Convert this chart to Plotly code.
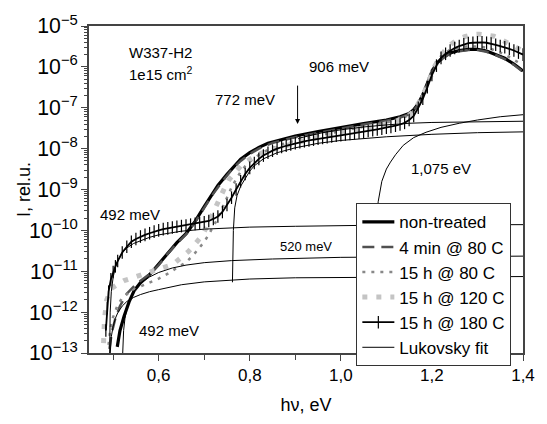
import numpy as np
import plotly.graph_objects as go

# ---- data (x in eV, y given as log10 of intensity) ----
nt_x = [0.509, 0.515, 0.524, 0.535, 0.546, 0.56, 0.582, 0.60, 0.62, 0.64, 0.66, 0.68, 0.70, 0.714, 0.73,
        0.75, 0.765, 0.78, 0.80, 0.82, 0.84, 0.87, 0.90, 0.95, 1.00, 1.05, 1.10, 1.13, 1.15, 1.16, 1.17,
        1.18, 1.19, 1.20, 1.21, 1.225, 1.24, 1.26, 1.28, 1.30, 1.32, 1.34, 1.36, 1.38, 1.40]
nt_lg = [-12.85, -12.45, -12.1, -11.75, -11.48, -11.28, -11.06, -10.83, -10.55, -10.3, -10.08, -9.78, -9.42,
         -9.17, -8.9, -8.63, -8.43, -8.26, -8.1, -7.97, -7.87, -7.77, -7.69, -7.58, -7.48, -7.39, -7.3, -7.22,
         -7.14, -7.05, -6.9, -6.68, -6.4, -6.12, -5.92, -5.76, -5.66, -5.6, -5.57, -5.57, -5.61, -5.69,
         -5.79, -5.93, -6.1]

m4_x = [0.492, 0.497, 0.505, 0.515, 0.53, 0.55, 0.58, 0.60, 0.62, 0.64, 0.66, 0.68, 0.70, 0.72, 0.74, 0.76,
        0.78, 0.80, 0.82, 0.85, 0.90, 0.95, 1.0, 1.05, 1.1, 1.13, 1.15, 1.16, 1.17, 1.18, 1.19, 1.20, 1.21,
        1.225, 1.24, 1.26, 1.28, 1.30, 1.32, 1.34, 1.36, 1.38, 1.40]
m4_lg = [-12.9, -12.5, -12.15, -11.85, -11.55, -11.32, -11.07, -10.85, -10.57, -10.32, -10.1, -9.8, -9.45,
         -9.1, -8.8, -8.52, -8.3, -8.13, -8.0, -7.86, -7.72, -7.61, -7.51, -7.41, -7.32, -7.24, -7.16, -7.07,
         -6.92, -6.7, -6.42, -6.14, -5.94, -5.78, -5.68, -5.62, -5.59, -5.59, -5.63, -5.71, -5.81, -5.95, -6.12]

h80_x = [0.490, 0.494, 0.499, 0.509, 0.52, 0.535, 0.55, 0.567, 0.585, 0.60, 0.62, 0.64, 0.66, 0.675, 0.69,
         0.70, 0.71, 0.72, 0.73, 0.74, 0.75, 0.76, 0.77, 0.78, 0.79, 0.80, 0.82, 0.84, 0.87, 0.90, 0.95, 1.0,
         1.05, 1.1, 1.13, 1.15, 1.16, 1.17, 1.18, 1.19, 1.20, 1.21, 1.225, 1.24, 1.26, 1.28, 1.30, 1.32,
         1.34, 1.36, 1.38, 1.40]
h80_lg = [-12.8, -12.4, -12.15, -11.85, -11.65, -11.52, -11.42, -11.34, -11.25, -11.18, -11.06, -10.93,
          -10.78, -10.62, -10.42, -10.28, -10.1, -9.9, -9.7, -9.45, -9.2, -8.95, -8.75, -8.57, -8.43, -8.32,
          -8.15, -8.03, -7.9, -7.8, -7.68, -7.57, -7.46, -7.36, -7.27, -7.18, -7.08, -6.9, -6.66, -6.36,
          -6.08, -5.86, -5.68, -5.58, -5.52, -5.5, -5.5, -5.53, -5.6, -5.7, -5.82, -5.96]

h120_x = [0.479, 0.481, 0.486, 0.496, 0.51, 0.524, 0.54, 0.557, 0.575, 0.589, 0.605, 0.621, 0.637, 0.653,
          0.665, 0.675, 0.686, 0.696, 0.705, 0.714, 0.724, 0.733, 0.744, 0.755, 0.768, 0.782, 0.80, 0.815,
          0.835, 0.858, 0.88, 0.901, 0.93, 0.965, 1.0, 1.03, 1.06, 1.094, 1.12, 1.137, 1.15, 1.159, 1.168,
          1.176, 1.184, 1.191, 1.198, 1.206, 1.216, 1.228, 1.242, 1.256, 1.272, 1.288, 1.304, 1.320, 1.336,
          1.352, 1.368, 1.385, 1.400]
h120_lg = [-12.76, -12.17, -11.7, -11.42, -11.32, -11.23, -11.17, -11.11, -11.05, -10.99, -10.93, -10.87,
           -10.78, -10.64, -10.52, -10.4, -10.27, -10.12, -9.92, -9.69, -9.45, -9.22, -8.98, -8.75, -8.56,
           -8.4, -8.26, -8.16, -8.07, -8.0, -7.92, -7.85, -7.77, -7.69, -7.62, -7.55, -7.49, -7.41, -7.34,
           -7.26, -7.18, -7.1, -6.95, -6.79, -6.6, -6.39, -6.19, -5.99, -5.8, -5.61, -5.45, -5.33, -5.26,
           -5.21, -5.2, -5.21, -5.25, -5.33, -5.42, -5.52, -5.61]

h180_x = [0.484, 0.487, 0.490, 0.495, 0.50, 0.505, 0.51, 0.52, 0.53, 0.54, 0.55, 0.56, 0.57, 0.58, 0.59,
          0.60, 0.61, 0.62, 0.63, 0.64, 0.65, 0.66, 0.67, 0.68, 0.69, 0.70, 0.71, 0.72, 0.73,
          0.74, 0.75, 0.76, 0.77, 0.78, 0.79, 0.80, 0.81, 0.82, 0.83, 0.84, 0.85, 0.86, 0.87, 0.88, 0.89,
          0.90, 0.91, 0.92, 0.93, 0.94, 0.95, 0.96, 0.97, 0.98, 0.99, 1.00, 1.01, 1.02, 1.03, 1.04, 1.05,
          1.06, 1.07, 1.08, 1.09, 1.10, 1.11, 1.12, 1.13, 1.14, 1.15, 1.16, 1.17, 1.18, 1.19, 1.20, 1.21,
          1.22, 1.23, 1.24, 1.25, 1.26, 1.27, 1.28, 1.29, 1.30, 1.31, 1.32, 1.33, 1.34, 1.35, 1.36, 1.37,
          1.38, 1.39, 1.40]
h180_lg = [-12.45, -11.9, -11.5, -11.2, -11.02, -10.88, -10.75, -10.54, -10.4, -10.28, -10.21, -10.15,
           -10.11, -10.07, -10.03, -10.0, -9.97, -9.95, -9.93, -9.91, -9.895, -9.88, -9.86, -9.84, -9.82,
           -9.8, -9.77, -9.72, -9.66,
           -9.55, -9.38, -9.2, -9.0, -8.8, -8.62, -8.47, -8.35, -8.25, -8.17, -8.1, -8.05, -8.0, -7.96,
           -7.93, -7.9, -7.87, -7.845, -7.82, -7.8, -7.78, -7.76, -7.74, -7.72, -7.7, -7.685, -7.67, -7.655,
           -7.64, -7.625, -7.61, -7.59, -7.57, -7.55, -7.53, -7.51, -7.49, -7.47, -7.44, -7.41, -7.37, -7.3,
           -7.2, -7.0, -6.78, -6.5, -6.2, -5.97, -5.78, -5.68, -5.6, -5.54, -5.49, -5.45, -5.42, -5.41,
           -5.4, -5.4, -5.41, -5.43, -5.46, -5.49, -5.52, -5.56, -5.6, -5.65, -5.7]

# Lukovsky fits
fit492a_x = [0.492, 0.4935, 0.496, 0.50, 0.505, 0.51, 0.52, 0.53, 0.545, 0.56, 0.58, 0.60, 0.65, 0.70, 0.80,
             0.90, 1.0, 1.1, 1.2, 1.3, 1.4]
fit492a_lg = [-13.3, -12.0, -11.5, -11.15, -10.9, -10.75, -10.55, -10.43, -10.32, -10.25, -10.17, -10.11,
              -10.02, -9.97, -9.92, -9.9, -9.88, -9.87, -9.865, -9.86, -9.86]
fit492b_x = [0.492, 0.4935, 0.496, 0.50, 0.505, 0.51, 0.52, 0.53, 0.545, 0.56, 0.58, 0.60, 0.65, 0.70, 0.80,
             0.90, 1.0, 1.2, 1.4]
fit492b_lg = [-13.3, -12.9, -12.6, -12.35, -12.15, -12.02, -11.85, -11.74, -11.64, -11.57, -11.5, -11.45,
              -11.33, -11.26, -11.19, -11.16, -11.15, -11.14, -11.13]
fit520_x = [0.520, 0.521, 0.523, 0.526, 0.53, 0.535, 0.545, 0.56, 0.58, 0.60, 0.63, 0.66, 0.70, 0.76, 0.85,
            1.0, 1.2, 1.4]
fit520_lg = [-13.3, -12.8, -12.45, -12.15, -11.92, -11.73, -11.5, -11.3, -11.14, -11.03, -10.92, -10.85,
             -10.79, -10.74, -10.7, -10.66, -10.64, -10.63]
fit772_x = [0.762, 0.7625, 0.764, 0.767, 0.772, 0.78, 0.79, 0.80, 0.81, 0.83, 0.86, 0.90, 0.95, 1.0, 1.1,
            1.2, 1.3, 1.4]
fit772_lg = [-11.27, -10.5, -10.0, -9.45, -9.15, -8.92, -8.72, -8.55, -8.42, -8.25, -8.1, -7.98, -7.87, -7.8,
             -7.71, -7.65, -7.61, -7.59]
fit906_x = [0.906, 0.93, 0.96, 1.0, 1.05, 1.1, 1.15, 1.2, 1.3, 1.4]
fit906_lg = [-7.75, -7.68, -7.61, -7.54, -7.47, -7.42, -7.38, -7.36, -7.34, -7.33]
fit1075_x = [1.075, 1.0755, 1.077, 1.079, 1.082, 1.09, 1.10, 1.109, 1.12, 1.137, 1.16, 1.187, 1.22, 1.26,
             1.30, 1.35, 1.40]
fit1075_lg = [-13.5, -11.3, -10.3, -9.7, -9.3, -8.8, -8.5, -8.33, -8.15, -7.92, -7.73, -7.6, -7.48, -7.38,
              -7.3, -7.22, -7.17]

FONT = "Liberation Sans, Arial, sans-serif"


def val(lg):
    return [10.0 ** v for v in lg]


fig = go.Figure()

fig.add_trace(go.Scatter(x=nt_x, y=val(nt_lg), mode="lines", name="non-treated",
                         line=dict(color="black", width=3.2)))
fig.add_trace(go.Scatter(x=m4_x, y=val(m4_lg), mode="lines", name="4 min @ 80 C",
                         line=dict(color="#505050", width=2.5, dash="12px,7px")))
fig.add_trace(go.Scatter(x=h80_x, y=val(h80_lg), mode="lines", name="15 h @ 80 C",
                         line=dict(color="#888888", width=2.5, dash="3px,6px")))
fig.add_trace(go.Scatter(x=h120_x, y=val(h120_lg), mode="lines", name="15 h @ 120 C",
                         line=dict(color="#c4c4c4", width=5, dash="5px,9px")))
fig.add_trace(go.Scatter(x=h180_x, y=val(h180_lg), mode="lines+markers", name="15 h @ 180 C",
                         line=dict(color="black", width=1.8),
                         marker=dict(symbol="line-ns-open", size=9, color="black",
                                     line=dict(color="black", width=1.2))))

fits = [(fit492a_x, fit492a_lg), (fit492b_x, fit492b_lg), (fit520_x, fit520_lg),
        (fit772_x, fit772_lg), (fit906_x, fit906_lg), (fit1075_x, fit1075_lg)]
for i, (fx, fl) in enumerate(fits):
    fig.add_trace(go.Scatter(x=fx, y=val(fl), mode="lines", name="Lukovsky fit",
                             legendgroup="fit", showlegend=(i == 0),
                             line=dict(color="black", width=1)))

anns = [
    dict(x=0.531, y=-5.64, text="W337-H2", xanchor="left", size=15),
    dict(x=0.531, y=-6.16, text="1e15 cm<sup>2</sup>", xanchor="left", size=15),
    dict(x=0.79, y=-6.80, text="772 meV", xanchor="center", size=15),
    dict(x=0.995, y=-5.98, text="906 meV", xanchor="center", size=15),
    dict(x=1.219, y=-8.49, text="1,075 eV", xanchor="center", size=15),
    dict(x=0.537, y=-9.60, text="492 meV", xanchor="center", size=15),
    dict(x=0.924, y=-10.40, text="520 meV", xanchor="center", size=13),
    dict(x=0.623, y=-12.45, text="492 meV", xanchor="center", size=15),
]
for a in anns:
    fig.add_annotation(x=a["x"], y=a["y"], text=a["text"], xanchor=a["xanchor"], yanchor="middle",
                       showarrow=False, font=dict(family=FONT, size=a["size"], color="black"))

fig.add_annotation(x=0.905, y=-7.40, ax=0, ay=-40, text="", showarrow=True,
                   arrowhead=2, arrowsize=1, arrowwidth=1, arrowcolor="black")

# y-axis title placed as rotated text
fig.add_annotation(xref="paper", yref="paper", x=-0.151, y=0.5, text="I, rel.u.", textangle=-90,
                   showarrow=False, xanchor="center", yanchor="middle",
                   font=dict(family=FONT, size=18, color="black"))

fig.update_layout(
    width=547, height=424,
    margin=dict(l=89, r=15, t=16, b=69),
    paper_bgcolor="white", plot_bgcolor="white",
    separators=", ",
    font=dict(family=FONT, size=16, color="black"),
    showlegend=True,
    legend=dict(x=0.616, y=0.458, xanchor="left", yanchor="top",
                bgcolor="white", bordercolor="#333333", borderwidth=1,
                font=dict(family=FONT, size=17, color="black"),
                tracegroupgap=0, itemwidth=32),
    xaxis=dict(range=[0.447, 1.4], showgrid=False, zeroline=False,
               showline=True, linecolor="#444444", linewidth=1.5, mirror=True,
               tickvals=[0.6, 0.8, 1.0, 1.2, 1.4], tickformat=".1f",
               ticks="outside", ticklen=6, tickcolor="#444444",
               minor=dict(tick0=0.5, dtick=0.1, ticks="outside", ticklen=5, tickcolor="#444444"),
               tickfont=dict(family=FONT, size=17),
               title=dict(text="hν, eV", font=dict(family=FONT, size=18), standoff=14)),
    yaxis=dict(type="log", range=[-13, -5], showgrid=False, zeroline=False,
               showline=True, linecolor="#444444", linewidth=1.5, mirror=True,
               dtick=1, exponentformat="power",
               ticks="outside", ticklen=6, tickcolor="#444444",
               minor=dict(ticks="outside", ticklen=3, tickcolor="#444444"),
               tickfont=dict(family=FONT, size=17)),
)

fig.write_html("out.html")
